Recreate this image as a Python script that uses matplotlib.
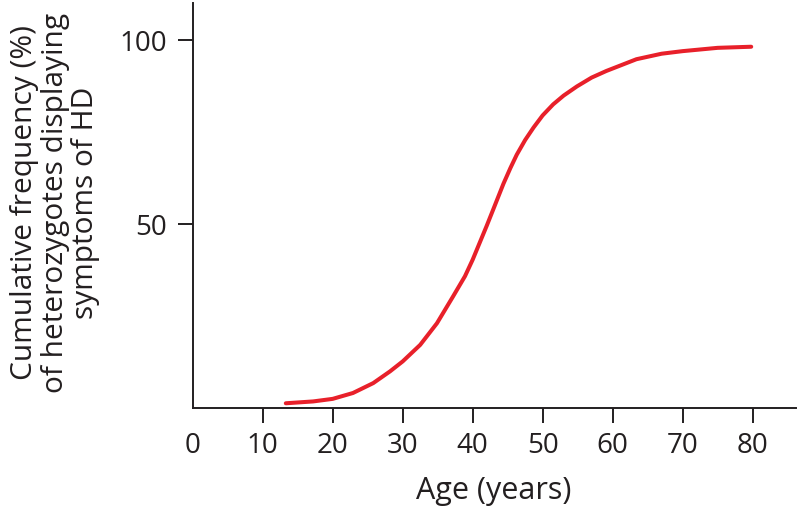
import matplotlib
matplotlib.use('Agg')
import matplotlib.pyplot as plt

# values
age = [13.3, 17.2, 20, 22.9, 25.8, 28.2, 30, 32.5, 34.9, 37.2, 38.9, 40, 41, 42,
       42.9, 44.4, 45.4, 46.3, 47.5, 48.7, 50, 51.5, 53, 54.9, 57, 59.1, 63.4, 67,
       70, 75, 79.8]
freq = [1.2, 1.7, 2.4, 4.0, 6.7, 9.9, 12.6, 17.1, 23.0, 30.3, 35.8, 40.3, 44.9, 49.5,
        53.8, 61.0, 65.3, 68.9, 72.9, 76.3, 79.6, 82.6, 85.0, 87.5, 89.9, 91.7, 94.9,
        96.4, 97.1, 98.0, 98.3]
x_ticks = [0, 10, 20, 30, 40, 50, 60, 70, 80]
y_ticks = [50, 100]

plt.rcParams['font.family'] = ['Open Sans', 'DejaVu Sans']
dark = '#231f20'

fig = plt.figure(figsize=(8, 5.07), dpi=100)
ax = fig.add_axes([0.2409, 0.1959, 0.7541, 0.7981])

ax.plot(age, freq, color='#e8202a', lw=2.9, solid_capstyle='round',
        solid_joinstyle='round')

ax.set_xlim(0, 86.2)
ax.set_ylim(0, 110.2)
ax.spines['top'].set_visible(False)
ax.spines['right'].set_visible(False)
for s in ['left', 'bottom']:
	ax.spines[s].set_color(dark)
	ax.spines[s].set_linewidth(1.4)

ax.set_xticks(x_ticks)
ax.set_yticks(y_ticks)
ax.tick_params(direction='out', length=10.8, width=1.4, color=dark,
               labelcolor=dark, labelsize=20)
ax.tick_params(axis='x', pad=7)
ax.tick_params(axis='y', pad=8)
ax.xaxis.get_major_ticks()[0].tick1line.set_visible(False)

fig.text(494/800, 1-491/507, 'Age (years)', ha='center', va='center',
         fontsize=22, color=dark)
fig.text(55/800, 1-203/507,
         'Cumulative frequency (%)\nof heterozygotes displaying\nsymptoms of HD',
         ha='center', va='center', rotation=90, fontsize=21.5, color=dark,
         linespacing=1.05)

plt.savefig('out.png', dpi=100)
